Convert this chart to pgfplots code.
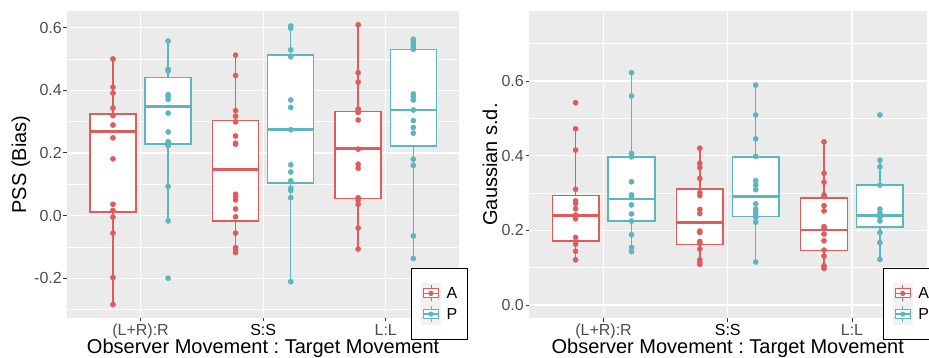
\documentclass[border=0pt]{standalone}
\usepackage{pgfplots}
\pgfplotsset{compat=1.18}
\usepackage{fontspec}
\setmainfont{Liberation Sans}
\definecolor{aRed}{RGB}{224,92,92}
\definecolor{pTeal}{RGB}{92,182,190}
\definecolor{panelbg}{RGB}{235,235,235}
\definecolor{keybg}{RGB}{242,242,242}
\definecolor{gray30}{RGB}{77,77,77}
\definecolor{gray20}{RGB}{51,51,51}

\pgfplotsset{
 gg/.style={
  scale only axis,
  axis background/.style={fill=panelbg},
  axis line style={draw=none},
  xmin=0.4, xmax=3.6,
  xtick={1,2,3},
  xticklabels={(L+R):R, \textcolor{black}{S:S}, L:L},
  grid=both,
  major grid style={white, line width=1.3bp},
  minor grid style={white, line width=0.65bp},
  tick align=outside,
  major tick length=3.5bp,
  minor tick length=0pt,
  tick style={gray20, line width=0.9bp},
  xtick pos=left, ytick pos=left,
  ticklabel style={font=\fontsize{16bp}{19bp}\selectfont, text=gray30},
  yticklabel style={inner sep=0bp, xshift=-1.5bp},
  xticklabel style={anchor=base, inner sep=0bp, yshift=-13.5bp},
  every axis x label/.style={at={(axis description cs:0.5,-0.1156)}, anchor=base,
     font=\fontsize{20bp}{24bp}\selectfont},
  xlabel={Observer Movement : Target Movement},
  legend style={draw=black, line width=0.7bp, fill=white,
    inner xsep=10bp, inner ysep=15bp, row sep=0bp, column sep=6bp,
    nodes={inner sep=0bp, text depth=0pt},
    font=\fontsize{16bp}{19bp}\selectfont, cells={anchor=west}},
  legend cell align=left,
 },
 ylab/.style={every axis y label/.style={at={(axis description cs:#1,0.5)}, rotate=90, anchor=base,
     font=\fontsize{20bp}{24bp}\selectfont}},
 keyimg/.style={legend image code/.code={
   \fill[keybg] (0bp,-10bp) rectangle (18.5bp,10bp);
   \draw[line width=0.9bp] (9.25bp,-8bp) -- (9.25bp,-4.5bp) (9.25bp,4.5bp) -- (9.25bp,8bp);
   \draw[line width=0.9bp, fill=white] (1.5bp,-4.5bp) rectangle (17bp,4.5bp);
   \draw[line width=1.3bp] (1.5bp,0bp) -- (17bp,0bp);
   \fill (9.25bp,0bp) circle (2.2bp);
 }},
 pts/.style={forget plot, only marks, mark=*, mark size=2.6bp, mark options={draw=none}},
}
% \bx{colour}{centre}{left}{right}{lower whisker}{lower quartile}{median}{upper quartile}{upper whisker}
\newcommand{\bx}[9]{%
 \addplot[forget plot, #1, line width=1.5bp] coordinates {(#2,#5) (#2,#6)};
 \addplot[forget plot, #1, line width=1.5bp] coordinates {(#2,#8) (#2,#9)};
 \addplot[forget plot, draw=#1, fill=white, line width=1.5bp] coordinates {(#3,#6) (#4,#6) (#4,#8) (#3,#8)} -- cycle;
 \addplot[forget plot, #1, line width=2.8bp] coordinates {(#3,#7) (#4,#7)};}

\begin{document}
\frenchspacing
\begin{tikzpicture}
% ---------------- Left panel: PSS (Bias)
\begin{axis}[gg, at={(67bp,40bp)}, anchor=south west,
  width=392.3bp, height=307bp,
  ymin=-0.327, ymax=0.653,
  ytick={-0.2,0,0.2,0.4,0.6},
  yticklabels={-0.2,0.0,0.2,0.4,0.6},
  minor ytick={-0.3,-0.1,0.1,0.3,0.5},
  ylab=-0.1045,
  ylabel={PSS (Bias)},
  legend style={at={(axis description cs:0.877,0.1638)}, anchor=north west},
]
\bx{aRed}{0.775}{0.5875}{0.9625}{-0.284}{0.012}{0.268}{0.324}{0.500}
\bx{pTeal}{1.225}{1.0375}{1.4125}{-0.017}{0.228}{0.348}{0.440}{0.557}
\bx{aRed}{1.775}{1.5875}{1.9625}{-0.118}{-0.017}{0.146}{0.304}{0.512}
\bx{pTeal}{2.225}{2.0375}{2.4125}{-0.211}{0.104}{0.274}{0.513}{0.605}
\bx{aRed}{2.775}{2.5875}{2.9625}{-0.107}{0.055}{0.213}{0.332}{0.609}
\bx{pTeal}{3.225}{3.0375}{3.4125}{-0.137}{0.222}{0.337}{0.530}{0.563}
\addplot[pts, aRed] coordinates {
 (0.775,0.500) (0.775,0.410) (0.775,0.391) (0.775,0.343) (0.775,0.319) (0.775,0.289) (0.775,0.248)
 (0.775,0.181) (0.775,0.036) (0.775,0.016) (0.775,-0.005) (0.775,-0.056) (0.775,-0.198) (0.775,-0.284)
 (1.775,0.512) (1.775,0.447) (1.775,0.335) (1.775,0.317) (1.775,0.299) (1.775,0.254) (1.775,0.231)
 (1.775,0.228) (1.775,0.068) (1.775,0.061) (1.775,0.050) (1.775,0.021) (1.775,-0.004) (1.775,-0.056)
 (1.775,-0.102) (1.775,-0.109) (1.775,-0.118)
 (2.775,0.609) (2.775,0.456) (2.775,0.426) (2.775,0.340) (2.775,0.334) (2.775,0.329) (2.775,0.305)
 (2.775,0.212) (2.775,0.164) (2.775,0.151) (2.775,0.057) (2.775,0.050) (2.775,0.036) (2.775,-0.040)
 (2.775,-0.107)
};
\addplot[pts, pTeal] coordinates {
 (1.225,0.557) (1.225,0.467) (1.225,0.462) (1.225,0.386) (1.225,0.380) (1.225,0.371) (1.225,0.327)
 (1.225,0.267) (1.225,0.236) (1.225,0.231) (1.225,0.223) (1.225,0.093) (1.225,-0.017) (1.225,-0.200)
 (2.225,0.605) (2.225,0.598) (2.225,0.529) (2.225,0.507) (2.225,0.369) (2.225,0.345) (2.225,0.274)
 (2.225,0.162) (2.225,0.139) (2.225,0.111) (2.225,0.087) (2.225,0.080) (2.225,0.057) (2.225,-0.211)
 (3.225,0.563) (3.225,0.555) (3.225,0.548) (3.225,0.539) (3.225,0.531) (3.225,0.388) (3.225,0.380)
 (3.225,0.369) (3.225,0.337) (3.225,0.303) (3.225,0.281) (3.225,0.263) (3.225,0.180) (3.225,0.160)
 (3.225,-0.065) (3.225,-0.137)
};
\addlegendimage{aRed, keyimg}
\addlegendentry{A}
\addlegendimage{pTeal, keyimg}
\addlegendentry{P}
\end{axis}
% ---------------- Right panel: Gaussian s.d.
\begin{axis}[gg, at={(529bp,40bp)}, anchor=south west,
  width=397.5bp, height=307bp,
  ymin=-0.0348, ymax=0.7875,
  ytick={0,0.2,0.4,0.6},
  yticklabels={0.0,0.2,0.4,0.6},
  minor ytick={0.1,0.3,0.5,0.7},
  ylab=-0.0805,
  ylabel={Gaussian s.d.},
  legend style={at={(axis description cs:0.890,0.1638)}, anchor=north west},
]
\bx{aRed}{0.775}{0.5875}{0.9625}{0.121}{0.172}{0.240}{0.293}{0.472}
\bx{pTeal}{1.225}{1.0375}{1.4125}{0.143}{0.225}{0.284}{0.396}{0.622}
\bx{aRed}{1.775}{1.5875}{1.9625}{0.109}{0.162}{0.222}{0.311}{0.420}
\bx{pTeal}{2.225}{2.0375}{2.4125}{0.115}{0.237}{0.291}{0.397}{0.589}
\bx{aRed}{2.775}{2.5875}{2.9625}{0.098}{0.146}{0.201}{0.287}{0.437}
\bx{pTeal}{3.225}{3.0375}{3.4125}{0.122}{0.209}{0.239}{0.321}{0.388}
\addplot[pts, aRed] coordinates {
 (0.775,0.542) (0.775,0.472) (0.775,0.415) (0.775,0.310) (0.775,0.279) (0.775,0.272) (0.775,0.258)
 (0.775,0.241) (0.775,0.237) (0.775,0.231) (0.775,0.181) (0.775,0.163) (0.775,0.144) (0.775,0.121)
 (1.775,0.420) (1.775,0.380) (1.775,0.368) (1.775,0.339) (1.775,0.301) (1.775,0.293) (1.775,0.256)
 (1.775,0.245) (1.775,0.198) (1.775,0.194) (1.775,0.170) (1.775,0.165) (1.775,0.150) (1.775,0.121)
 (1.775,0.114) (1.775,0.109)
 (2.775,0.437) (2.775,0.353) (2.775,0.329) (2.775,0.295) (2.775,0.290) (2.775,0.266) (2.775,0.252)
 (2.775,0.210) (2.775,0.204) (2.775,0.190) (2.775,0.172) (2.775,0.147) (2.775,0.131) (2.775,0.105)
 (2.775,0.098)
};
\addplot[pts, pTeal] coordinates {
 (1.225,0.622) (1.225,0.560) (1.225,0.406) (1.225,0.397) (1.225,0.330) (1.225,0.295) (1.225,0.290)
 (1.225,0.268) (1.225,0.244) (1.225,0.225) (1.225,0.188) (1.225,0.154) (1.225,0.143)
 (2.225,0.589) (2.225,0.509) (2.225,0.445) (2.225,0.398) (2.225,0.333) (2.225,0.321) (2.225,0.309)
 (2.225,0.271) (2.225,0.257) (2.225,0.250) (2.225,0.243) (2.225,0.235) (2.225,0.222) (2.225,0.115)
 (3.225,0.509) (3.225,0.388) (3.225,0.370) (3.225,0.321) (3.225,0.257) (3.225,0.246) (3.225,0.235)
 (3.225,0.225) (3.225,0.194) (3.225,0.167) (3.225,0.122)
};
\addlegendimage{aRed, keyimg}
\addlegendentry{A}
\addlegendimage{pTeal, keyimg}
\addlegendentry{P}
\end{axis}
\pgfresetboundingbox
\path[use as bounding box] (0bp,0bp) rectangle (929bp,358bp);
\end{tikzpicture}
\end{document}
